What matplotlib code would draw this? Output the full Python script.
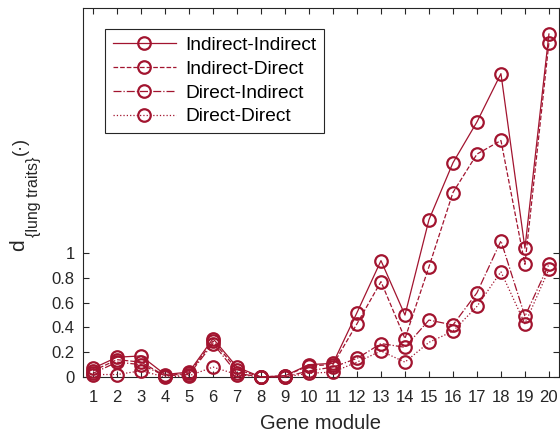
import numpy as np
import matplotlib.pyplot as plt

plt.rcParams['font.family'] = ['Liberation Sans', 'DejaVu Sans']

modules = np.arange(1, 21)
ind_ind = [0.07, 0.16, 0.17, 0.02, 0.04, 0.31, 0.08, 0.00, 0.01, 0.10,
           0.11, 0.52, 0.94, 0.50, 1.27, 1.73, 2.06, 2.45, 1.04, 2.77]
ind_dir = [0.05, 0.14, 0.12, 0.01, 0.03, 0.29, 0.06, 0.00, 0.01, 0.09,
           0.10, 0.43, 0.77, 0.31, 0.89, 1.49, 1.80, 1.91, 0.91, 2.70]
dir_ind = [0.03, 0.12, 0.10, 0.01, 0.02, 0.27, 0.03, 0.00, 0.00, 0.05,
           0.08, 0.15, 0.27, 0.24, 0.46, 0.42, 0.68, 1.10, 0.49, 0.91]
dir_dir = [0.02, 0.02, 0.05, 0.00, 0.01, 0.08, 0.02, 0.00, 0.00, 0.03,
           0.04, 0.12, 0.21, 0.12, 0.28, 0.37, 0.57, 0.85, 0.43, 0.87]
labels = ['Indirect-Indirect', 'Indirect-Direct', 'Direct-Indirect', 'Direct-Direct']
styles = ['-', '--', '-.', ':']

col = '#A2142F'
grey = '#262626'
W, H = 560, 437

fig = plt.figure(figsize=(5.6, 4.37), dpi=100)
ax = fig.add_axes([83/W, 1-377/H, 476/W, 369/H])

for vals, lab, ls in zip([ind_ind, ind_dir, dir_ind, dir_dir], labels, styles):
    ax.plot(modules, vals, linestyle=ls, color=col, lw=0.9, marker='o',
            ms=9, mfc='none', mew=1.6, label=lab, clip_on=False, zorder=3)

ax.set_xlim(0.58, 20.42)
ax.set_ylim(0, 2.98)
ax.set_xticks(modules)
ax.set_yticks([0, 0.2, 0.4, 0.6, 0.8, 1])
ax.set_yticklabels(['0', '0.2', '0.4', '0.6', '0.8', '1'])
ax.tick_params(direction='in', length=4, width=0.8, top=True, right=True,
               labelsize=12, colors=grey)
ax.tick_params(axis='x', pad=9)
ax.tick_params(axis='y', pad=6)
for s in ax.spines.values():
    s.set_color(grey)
    s.set_linewidth(0.8)

ax.set_xlabel('Gene module', fontsize=14.5, color=grey, labelpad=7)

# y label: d with a subscript, built from pieces so the sizes match
def ylab(px, py, s, size):
    fig.text(px/W, 1-py/H, s, fontsize=size, color=grey, rotation=90,
             rotation_mode='anchor', ha='left', va='baseline')

ylab(24.5, 251, 'd', 15)
ylab(38, 237, '{lung traits}', 11.5)
ylab(24.5, 155, '(\u00b7)', 13)

leg = ax.legend(loc='upper left', bbox_to_anchor=(0.046, 0.943), fontsize=13.8,
                handlelength=3.3, handletextpad=0.5, labelspacing=0.33,
                borderpad=0.4, fancybox=False, framealpha=1, borderaxespad=0)
leg.get_frame().set_edgecolor(grey)
leg.get_frame().set_linewidth(0.8)
for t in leg.get_texts():
    t.set_color('black')

fig.savefig('out.png', dpi=100)
